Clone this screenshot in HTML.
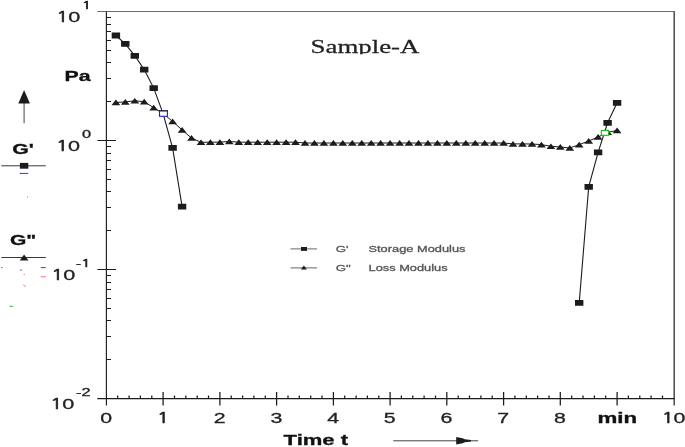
<!DOCTYPE html>
<html lang="en"><head><meta charset="utf-8"><title>Sample-A rheology chart</title>
<style>html,body{margin:0;padding:0;background:#fff;}body{width:685px;height:447px;overflow:hidden;}svg{display:block;filter:blur(0.3px);}</style>
</head><body>
<svg width="685" height="447" viewBox="0 0 685 447">
<rect width="685" height="447" fill="#fff"/>
<g fill="none" stroke-linecap="butt">
<line x1="97.3" y1="11.5" x2="674.4" y2="11.5" stroke="#6e6e6e" stroke-width="1.1"/>
<line x1="674.2" y1="11.2" x2="674.2" y2="405.6" stroke="#4a4a4a" stroke-width="1.5"/>
<line x1="106.4" y1="11.5" x2="106.4" y2="405.6" stroke="#1c1c1c" stroke-width="1.15"/>
<line x1="97.3" y1="398.7" x2="674.4" y2="398.7" stroke="#1c1c1c" stroke-width="1.2"/>
<path d="M106.4 101.5h4.6M106.4 78.5h4.6M106.4 62.5h4.6M106.4 50.5h4.6M106.4 40.5h4.6M106.4 31.5h4.6M106.4 24.5h4.6M106.4 17.5h4.6M97.4 140.5H116M106.4 230.5h4.6M106.4 207.5h4.6M106.4 191.5h4.6M106.4 179.5h4.6M106.4 169.5h4.6M106.4 160.5h4.6M106.4 153.5h4.6M106.4 146.5h4.6M97.4 269.5H116M106.4 359.5h4.6M106.4 336.5h4.6M106.4 320.5h4.6M106.4 308.5h4.6M106.4 298.5h4.6M106.4 289.5h4.6M106.4 282.5h4.6M106.4 275.5h4.6" stroke="#1c1c1c" stroke-width="1"/>
<path d="M117.7 395.6V398.7M129.1 395.6V398.7M140.4 395.6V398.7M151.8 395.6V398.7M163.1 392V405.6M174.5 395.6V398.7M185.8 395.6V398.7M197.2 395.6V398.7M208.5 395.6V398.7M219.9 392V405.6M231.2 395.6V398.7M242.6 395.6V398.7M253.9 395.6V398.7M265.3 395.6V398.7M276.6 392V405.6M288.0 395.6V398.7M299.3 395.6V398.7M310.7 395.6V398.7M322.0 395.6V398.7M333.4 392V405.6M344.7 395.6V398.7M356.1 395.6V398.7M367.4 395.6V398.7M378.8 395.6V398.7M390.1 392V405.6M401.4 395.6V398.7M412.8 395.6V398.7M424.1 395.6V398.7M435.5 395.6V398.7M446.8 392V405.6M458.2 395.6V398.7M469.5 395.6V398.7M480.9 395.6V398.7M492.2 395.6V398.7M503.6 392V405.6M514.9 395.6V398.7M526.3 395.6V398.7M537.6 395.6V398.7M549.0 395.6V398.7M560.3 392V405.6M571.7 395.6V398.7M583.0 395.6V398.7M594.4 395.6V398.7M605.7 395.6V398.7M617.1 392V405.6M628.4 395.6V398.7M639.8 395.6V398.7M651.1 395.6V398.7M662.5 395.6V398.7" stroke="#1c1c1c" stroke-width="1.25"/>
<polyline points="115.9,102.5 125.3,101.9 134.8,100.8 144.2,101.7 153.7,107.7 163.1,113.6 172.6,121.4 182.1,130.0 191.5,138.0 201.0,142.3 210.4,142.2 219.9,142.2 229.3,141.4 238.8,142.2 248.2,142.2 257.7,142.2 267.2,142.2 276.6,142.2 286.1,142.2 295.5,142.2 305.0,143.0 314.4,143.0 323.9,143.0 333.4,143.0 342.8,143.0 352.3,143.0 361.7,143.0 371.2,143.0 380.6,143.0 390.1,143.0 399.6,143.0 409.0,143.0 418.5,143.0 427.9,143.0 437.4,143.0 446.8,143.0 456.3,143.0 465.8,143.0 475.2,143.0 484.7,143.0 494.1,143.0 503.6,143.0 513.0,143.9 522.5,143.9 532.0,144.0 541.4,144.6 550.9,146.3 560.3,147.0 569.8,148.0 579.2,144.6 588.7,141.0 598.1,137.0 607.6,132.3 617.1,130.5" stroke="#1c1c1c" stroke-width="1"/>
<polyline points="115.9,35.5 125.3,43.8 134.8,55.8 144.2,69.6 153.7,88.1 163.1,113.6 172.6,147.8 182.1,206.7" stroke="#1c1c1c" stroke-width="1.1"/>
<polyline points="579.2,302.9 588.7,186.9 598.1,152.4 607.6,122.8 617.1,102.8" stroke="#1c1c1c" stroke-width="1.1"/>
</g>
<g fill="#1c1c1c">
<path d="M111.5 105.3L115.9 99.6L120.3 105.3ZM120.9 104.7L125.3 99.0L129.7 104.7ZM130.4 103.6L134.8 97.9L139.2 103.6ZM139.8 104.5L144.2 98.8L148.6 104.5ZM149.3 110.5L153.7 104.8L158.1 110.5ZM168.2 124.2L172.6 118.5L177.0 124.2ZM177.7 132.8L182.1 127.1L186.5 132.8ZM187.1 140.8L191.5 135.1L195.9 140.8ZM196.6 145.1L201.0 139.4L205.4 145.1ZM206.0 145.0L210.4 139.3L214.8 145.0ZM215.5 145.0L219.9 139.3L224.3 145.0ZM224.9 144.2L229.3 138.5L233.7 144.2ZM234.4 145.0L238.8 139.3L243.2 145.0ZM243.8 145.0L248.2 139.3L252.7 145.0ZM253.3 145.0L257.7 139.3L262.1 145.0ZM262.8 145.0L267.2 139.3L271.6 145.0ZM272.2 145.0L276.6 139.3L281.0 145.0ZM281.7 145.0L286.1 139.3L290.5 145.0ZM291.1 145.0L295.5 139.3L299.9 145.0ZM300.6 145.8L305.0 140.1L309.4 145.8ZM310.0 145.8L314.4 140.1L318.8 145.8ZM319.5 145.8L323.9 140.1L328.3 145.8ZM329.0 145.8L333.4 140.1L337.8 145.8ZM338.4 145.8L342.8 140.1L347.2 145.8ZM347.9 145.8L352.3 140.1L356.7 145.8ZM357.3 145.8L361.7 140.1L366.1 145.8ZM366.8 145.8L371.2 140.1L375.6 145.8ZM376.2 145.8L380.6 140.1L385.0 145.8ZM385.7 145.8L390.1 140.1L394.5 145.8ZM395.2 145.8L399.6 140.1L404.0 145.8ZM404.6 145.8L409.0 140.1L413.4 145.8ZM414.1 145.8L418.5 140.1L422.9 145.8ZM423.5 145.8L427.9 140.1L432.3 145.8ZM433.0 145.8L437.4 140.1L441.8 145.8ZM442.4 145.8L446.8 140.1L451.2 145.8ZM451.9 145.8L456.3 140.1L460.7 145.8ZM461.4 145.8L465.8 140.1L470.2 145.8ZM470.8 145.8L475.2 140.1L479.6 145.8ZM480.3 145.8L484.7 140.1L489.1 145.8ZM489.7 145.8L494.1 140.1L498.5 145.8ZM499.2 145.8L503.6 140.1L508.0 145.8ZM508.6 146.7L513.0 141.0L517.4 146.7ZM518.1 146.7L522.5 141.0L526.9 146.7ZM527.6 146.8L532.0 141.1L536.4 146.8ZM537.0 147.4L541.4 141.7L545.8 147.4ZM546.5 149.1L550.9 143.4L555.3 149.1ZM555.9 149.8L560.3 144.1L564.7 149.8ZM565.4 150.8L569.8 145.1L574.2 150.8ZM574.8 147.4L579.2 141.7L583.6 147.4ZM584.3 143.8L588.7 138.1L593.1 143.8ZM593.7 139.8L598.1 134.1L602.5 139.8ZM603.2 135.1L607.6 129.4L612.0 135.1ZM612.7 133.3L617.1 127.6L621.5 133.3Z"/>
<path d="M111.7 32.6h8.4v5.8h-8.4ZM121.1 40.9h8.4v5.8h-8.4ZM130.6 52.9h8.4v5.8h-8.4ZM140.0 66.7h8.4v5.8h-8.4ZM149.5 85.2h8.4v5.8h-8.4ZM168.4 144.9h8.4v5.8h-8.4ZM177.9 203.8h8.4v5.8h-8.4ZM575.0 300.0h8.4v5.8h-8.4ZM584.5 184.0h8.4v5.8h-8.4ZM593.9 149.5h8.4v5.8h-8.4ZM603.4 119.9h8.4v5.8h-8.4ZM612.9 99.9h8.4v5.8h-8.4Z"/>
</g>
<rect x="159.5" y="110.9" width="7.9" height="5.4" fill="#fff" stroke="#2020cc" stroke-width="1.1"/>
<line x1="158.9" y1="110.7" x2="168" y2="110.7" stroke="#1c1c1c" stroke-width="0.9"/>
<rect x="601.35" y="130.5" width="7.3" height="4.8" fill="#fff" stroke="#1fb81f" stroke-width="1.15"/>
<g stroke="#3a3a3a" stroke-width="1" fill="none">
<line x1="1.3" y1="165.8" x2="45.8" y2="165.8"/>
<line x1="1.3" y1="257.5" x2="45.8" y2="257.5"/>
<line x1="24.1" y1="103" x2="24.1" y2="123.3" stroke="#555" stroke-width="1.1"/>
<line x1="393.3" y1="440.8" x2="478.2" y2="440.8" stroke="#444"/>
<line x1="290.5" y1="248.9" x2="317.1" y2="248.9" stroke="#666"/>
<line x1="290.5" y1="267.9" x2="317.1" y2="267.9" stroke="#666"/>
</g>
<g fill="#1c1c1c">
<rect x="19.9" y="162.9" width="8.4" height="5.8"/>
<path d="M19.7 260.4L24.1 254.6L28.5 260.4Z"/>
<path d="M18.3 103.6L24.1 90L29.9 103.6Z"/>
<path d="M456.2 437.1L456.2 444.5L462.5 443.3L464.8 442.3L471 441.6L471 440L464.8 439.3L462.5 438.3Z"/>
<rect x="301" y="247" width="6" height="3.9"/>
<path d="M300.9 269.5L303.9 265.6L306.9 269.5Z"/>
</g>
<g stroke-width="1" fill="none">
<path d="M19.6 173.4H28.3M40.8 267.6H45.8M1.2 267.6h1.2M20.2 270h1.6" stroke="#3838f0"/>
<path d="M40.8 276.8H45.8M23.3 284.8L25.8 286.8M23.6 274.6h1.2M27 197h1" stroke="#ff6a6a"/>
<path d="M9.5 306.3H13" stroke="#22c022"/>
</g>
<g>
<text transform="translate(56.30 21.5) scale(1.48 1)" font-family="Liberation Sans, Arial, sans-serif" font-size="14.6" fill="#222" stroke="#222" stroke-width="0.3"><tspan x="0.00" font-family="NanumGothic, Liberation Sans, sans-serif" font-size="13.51" stroke-width="0.60">1</tspan><tspan x="8.12">0</tspan></text>
<text transform="translate(82.00 8.9) scale(1.46 1)" font-family="Liberation Sans, Arial, sans-serif" font-size="11.2" fill="#222" stroke="#222" stroke-width="0.3"><tspan x="0.00" font-family="NanumGothic, Liberation Sans, sans-serif" font-size="10.36" stroke-width="0.60">1</tspan></text>
<text transform="translate(56.10 150.5) scale(1.48 1)" font-family="Liberation Sans, Arial, sans-serif" font-size="14.6" fill="#222" stroke="#222" stroke-width="0.3"><tspan x="0.00" font-family="NanumGothic, Liberation Sans, sans-serif" font-size="13.51" stroke-width="0.60">1</tspan><tspan x="8.12">0</tspan></text>
<text transform="translate(82.00 137.9) scale(1.46 1)" font-family="Liberation Sans, Arial, sans-serif" font-size="11.2" fill="#222" stroke="#222" stroke-width="0.3"><tspan x="0.00">0</tspan></text>
<text transform="translate(51.30 279.5) scale(1.48 1)" font-family="Liberation Sans, Arial, sans-serif" font-size="14.6" fill="#222" stroke="#222" stroke-width="0.3"><tspan x="0.00" font-family="NanumGothic, Liberation Sans, sans-serif" font-size="13.51" stroke-width="0.60">1</tspan><tspan x="8.12">0</tspan></text>
<text transform="translate(75.80 266.9) scale(1.46 1)" font-family="Liberation Sans, Arial, sans-serif" font-size="11.2" fill="#222" stroke="#222" stroke-width="0.3"><tspan x="0.00">-</tspan><tspan x="3.73" font-family="NanumGothic, Liberation Sans, sans-serif" font-size="10.36" stroke-width="0.60">1</tspan></text>
<text transform="translate(50.20 408.5) scale(1.48 1)" font-family="Liberation Sans, Arial, sans-serif" font-size="14.6" fill="#222" stroke="#222" stroke-width="0.3"><tspan x="0.00" font-family="NanumGothic, Liberation Sans, sans-serif" font-size="13.51" stroke-width="0.60">1</tspan><tspan x="8.12">0</tspan></text>
<text transform="translate(76.00 395.9) scale(1.46 1)" font-family="Liberation Sans, Arial, sans-serif" font-size="11.2" fill="#222" stroke="#222" stroke-width="0.3"><tspan x="0.00">-</tspan><tspan x="3.73">2</tspan></text>
<text transform="translate(64.6 81.1) scale(1.48 1)" font-family="Liberation Sans, Arial, sans-serif" font-size="14.4" font-weight="bold" fill="#111" stroke="#111" stroke-width="0.3" text-anchor="start">Pa</text>
<text transform="translate(12.2 153.8) scale(1.5 1)" font-family="Liberation Sans, Arial, sans-serif" font-size="14.2" font-weight="bold" fill="#111" stroke="#111" stroke-width="0.3" text-anchor="start">G'</text>
<text transform="translate(10.0 244.6) scale(1.48 1)" font-family="Liberation Sans, Arial, sans-serif" font-size="14.2" font-weight="bold" fill="#111" stroke="#111" stroke-width="0.3" text-anchor="start">G"</text>
<text transform="translate(100.17 423.2) scale(1.46 1)" font-family="Liberation Sans, Arial, sans-serif" font-size="14.6" fill="#222" stroke="#222" stroke-width="0.3"><tspan x="0.00">0</tspan></text>
<text transform="translate(156.91 423.2) scale(1.46 1)" font-family="Liberation Sans, Arial, sans-serif" font-size="14.6" fill="#222" stroke="#222" stroke-width="0.3"><tspan x="0.00" font-family="NanumGothic, Liberation Sans, sans-serif" font-size="13.51" stroke-width="0.60">1</tspan></text>
<text transform="translate(213.65 423.2) scale(1.46 1)" font-family="Liberation Sans, Arial, sans-serif" font-size="14.6" fill="#222" stroke="#222" stroke-width="0.3"><tspan x="0.00">2</tspan></text>
<text transform="translate(270.39 423.2) scale(1.46 1)" font-family="Liberation Sans, Arial, sans-serif" font-size="14.6" fill="#222" stroke="#222" stroke-width="0.3"><tspan x="0.00">3</tspan></text>
<text transform="translate(327.13 423.2) scale(1.46 1)" font-family="Liberation Sans, Arial, sans-serif" font-size="14.6" fill="#222" stroke="#222" stroke-width="0.3"><tspan x="0.00">4</tspan></text>
<text transform="translate(383.87 423.2) scale(1.46 1)" font-family="Liberation Sans, Arial, sans-serif" font-size="14.6" fill="#222" stroke="#222" stroke-width="0.3"><tspan x="0.00">5</tspan></text>
<text transform="translate(440.61 423.2) scale(1.46 1)" font-family="Liberation Sans, Arial, sans-serif" font-size="14.6" fill="#222" stroke="#222" stroke-width="0.3"><tspan x="0.00">6</tspan></text>
<text transform="translate(497.35 423.2) scale(1.46 1)" font-family="Liberation Sans, Arial, sans-serif" font-size="14.6" fill="#222" stroke="#222" stroke-width="0.3"><tspan x="0.00">7</tspan></text>
<text transform="translate(554.09 423.2) scale(1.46 1)" font-family="Liberation Sans, Arial, sans-serif" font-size="14.6" fill="#222" stroke="#222" stroke-width="0.3"><tspan x="0.00">8</tspan></text>
<text transform="translate(617.2600000000001 423.3) scale(1.55 1)" font-family="Liberation Sans, Arial, sans-serif" font-size="14.4" font-weight="bold" fill="#111" stroke="#111" stroke-width="0.3" text-anchor="middle">min</text>
<text transform="translate(661.65 423.2) scale(1.46 1)" font-family="Liberation Sans, Arial, sans-serif" font-size="14.6" fill="#222" stroke="#222" stroke-width="0.3"><tspan x="0.00" font-family="NanumGothic, Liberation Sans, sans-serif" font-size="13.51" stroke-width="0.60">1</tspan><tspan x="8.12">0</tspan></text>
<text transform="translate(283.6 445) scale(1.47 1)" font-family="Liberation Sans, Arial, sans-serif" font-size="15" font-weight="bold" fill="#111" stroke="#111" stroke-width="0.3" text-anchor="start">Time t</text>
<clipPath id="cp"><rect x="300" y="30" width="130" height="24.2"/></clipPath><g clip-path="url(#cp)">
<text transform="translate(310.6 52.6) scale(1.37 1)" font-family="Liberation Serif, Times New Roman, serif" font-size="19.6" font-weight="normal" fill="#222" stroke="#222" stroke-width="0.25" text-anchor="start">Sample-A</text>
</g>
<text transform="translate(335.8 252.2) scale(1.35 1)" font-family="Liberation Sans, Arial, sans-serif" font-size="9.8" font-weight="normal" fill="#555" stroke="#555" stroke-width="0.3" text-anchor="start">G'</text>
<text transform="translate(335.8 271.1) scale(1.35 1)" font-family="Liberation Sans, Arial, sans-serif" font-size="9.8" font-weight="normal" fill="#555" stroke="#555" stroke-width="0.3" text-anchor="start">G"</text>
<text transform="translate(368.5 251.9) scale(1.31 1)" font-family="Liberation Sans, Arial, sans-serif" font-size="9.8" font-weight="normal" fill="#555" stroke="#555" stroke-width="0.3" text-anchor="start">Storage Modulus</text>
<text transform="translate(368.5 270.9) scale(1.31 1)" font-family="Liberation Sans, Arial, sans-serif" font-size="9.8" font-weight="normal" fill="#555" stroke="#555" stroke-width="0.3" text-anchor="start">Loss Modulus</text>
</g>
</svg>
</body></html>
